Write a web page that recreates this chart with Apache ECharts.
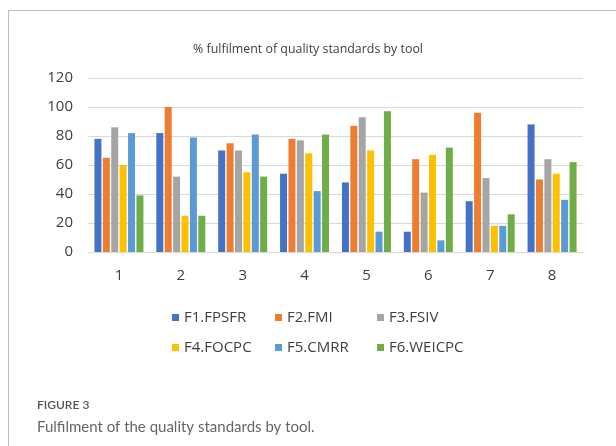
<!DOCTYPE html>
<html>
<head>
<meta charset="utf-8">
<script src="https://cdn.jsdelivr.net/npm/echarts@6/dist/echarts.min.js"></script>
<style>
html,body{margin:0;padding:0;background:#fff;}
#chart{width:616px;height:446px;}
</style>
</head>
<body>
<div id="chart"></div>
<script>
const categories = ['1','2','3','4','5','6','7','8'];
const seriesNames = ['F1.FPSFR','F2.FMI','F3.FSIV','F4.FOCPC','F5.CMRR','F6.WEICPC'];
const f1 = [78, 82, 70, 54, 48, 14, 35, 88];
const f2 = [65, 100, 75, 78, 87, 64, 96, 50];
const f3 = [86, 52, 70, 77, 93, 41, 51, 64];
const f4 = [60, 25, 55, 68, 70, 67, 18, 54];
const f5 = [82, 79, 81, 42, 14, 8, 18, 36];
const f6 = [39, 25, 52, 81, 97, 72, 26, 62];
const yTicks = [0, 20, 40, 60, 80, 100, 120];
const colors = ['#4472C4','#ED7D31','#A5A5A5','#FFC000','#5B9BD5','#70AD47'];
const values = [f1, f2, f3, f4, f5, f6];

const chart = echarts.init(document.getElementById('chart'), null, {renderer:'canvas'});

const legendPos = [
  {left:167, top:305}, {left:270, top:305}, {left:372, top:305},
  {left:167, top:335}, {left:270, top:335}, {left:372, top:335}
];

const option = {
  animation:false,
  color: colors,
  title: {
    text: '% fulfilment of quality standards by tool',
    left: 'center',
    top: 38,
    textStyle: {fontFamily:'Open Sans', fontSize:12.4, fontWeight:'normal', color:'#404040'}
  },
  legend: seriesNames.map((n,i)=>({
    data:[n],
    left: legendPos[i].left,
    top: legendPos[i].top,
    itemWidth: 7, itemHeight: 7, itemGap: 4,
    icon: 'rect',
    textStyle: {fontFamily:'Open Sans', fontSize:15, color:'#404040'}
  })),
  grid: {left:88, right:33, top:78, bottom:194, containLabel:false},
  xAxis: {
    type:'category',
    data: categories,
    axisLine:{lineStyle:{color:'#d9d9d9'}},
    axisTick:{show:false},
    axisLabel:{fontFamily:'Open Sans', fontSize:15, color:'#404040', margin:16}
  },
  yAxis: {
    type:'value',
    min: yTicks[0], max: yTicks[yTicks.length-1], interval: 20,
    axisLine:{show:false},
    axisTick:{show:false},
    splitLine:{lineStyle:{color:'#d9d9d9'}},
    axisLabel:{fontFamily:'Open Sans', fontSize:15, color:'#404040', margin:15}
  },
  series: seriesNames.map((n,i)=>({
    name:n, type:'bar', data: values[i],
    barWidth:7, barGap:'20%',
    itemStyle:{color:colors[i]}
  })),
  graphic: [
    {type:'line', shape:{x1:8, y1:10.5, x2:616, y2:10.5}, style:{stroke:'#bdbdbd', lineWidth:1}},
    {type:'line', shape:{x1:8.5, y1:10, x2:8.5, y2:446}, style:{stroke:'#bdbdbd', lineWidth:1}},
    {type:'text', left:37, top:399, style:{text:'FIGURE 3', font:'600 12px Lato', fill:'#555'}},
    {type:'text', left:37, top:420, style:{text:'Fulfilment of the quality standards by tool.', font:'15px Lato', fill:'#666'}}
  ]
};
chart.setOption(option);
</script>
</body>
</html>
